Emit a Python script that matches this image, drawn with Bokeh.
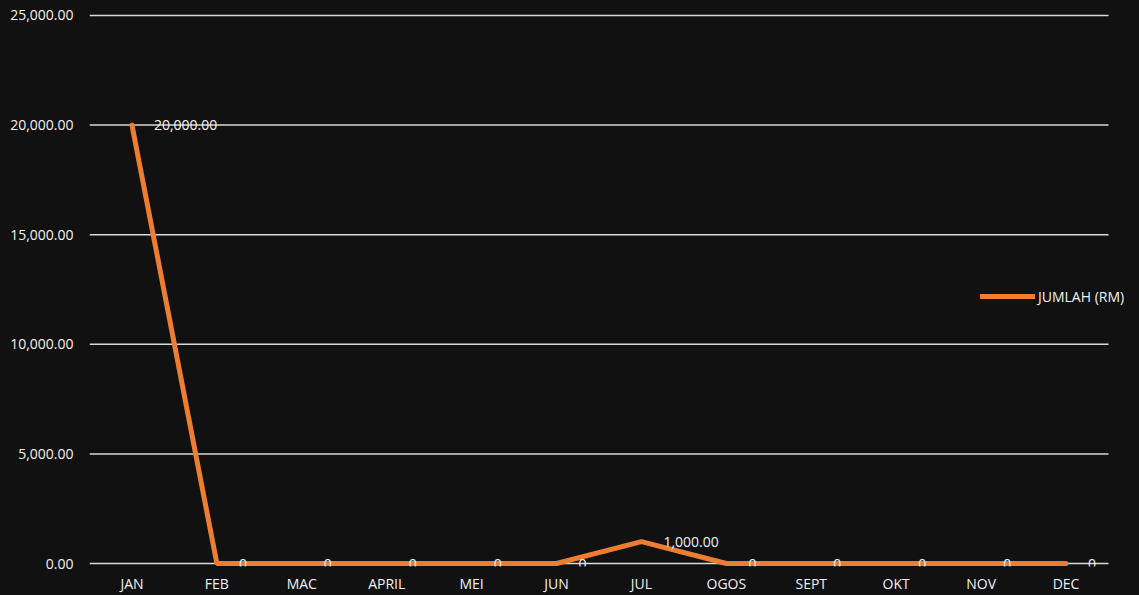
from bokeh.plotting import figure
from bokeh.models import Range1d, NumeralTickFormatter, FixedTicker, ColumnDataSource, CustomJSTickFormatter
from bokeh.core.properties import value
from bokeh.embed import file_html
from bokeh.resources import INLINE

months = ["JAN", "FEB", "MAC", "APRIL", "MEI", "JUN", "JUL", "OGOS", "SEPT", "OKT", "NOV", "DEC"]
jumlah = [20000, 0, 0, 0, 0, 0, 1000, 0, 0, 0, 0, 0]
labels = ["20,000.00", "0", "0", "0", "0", "0", "1,000.00", "0", "0", "0", "0", "0"]
y_ticks = [0, 5000, 10000, 15000, 20000, 25000]
series_name = "JUMLAH (RM)"

FONT = "Open Sans"
TXT = "#f2f2f2"
BG = "#111111"
FS = "14px"

W, H = 1139, 595
LEFT, GRID_RIGHT = 89, 1108
n = len(months)
xpos = [i + 0.5 for i in range(n)]
x_end = n * (W - LEFT) / (GRID_RIGHT - LEFT)

src = ColumnDataSource(dict(x=xpos, y=jumlah, t=labels))
grid_src = ColumnDataSource(dict(x0=[0] * len(y_ticks), x1=[n] * len(y_ticks), y=y_ticks))

p = figure(x_range=Range1d(0, x_end), y_range=Range1d(-136, 25091), width=W, height=H,
           output_backend="svg", toolbar_location=None, tools="",
           background_fill_color=BG, border_fill_color=BG,
           min_border_left=LEFT, min_border_right=0, min_border_top=13, min_border_bottom=27)
p.styles = {"background-color": BG}
p.outline_line_color = None
p.grid.visible = False

p.segment(x0="x0", x1="x1", y0="y", y1="y", source=grid_src, line_color="#d9d9d9", line_width=1.5)
p.line("x", "y", source=src, line_color="#ED7D31", line_width=5, line_cap="round",
       legend_label=series_name)
p.text("x", "y", text="t", source=src, x_offset=22, text_align="left", text_baseline="middle",
       text_font=value(FONT), text_font_size=FS, text_color=TXT)

p.yaxis.ticker = FixedTicker(ticks=y_ticks)
p.yaxis.formatter = NumeralTickFormatter(format="0,0.00")
p.xaxis.ticker = FixedTicker(ticks=xpos)
p.xaxis.formatter = CustomJSTickFormatter(args=dict(months=months),
                                          code="return months[Math.round(tick - 0.5)] || '';")

for ax in (p.xaxis[0], p.yaxis[0]):
    ax.axis_line_color = None
    ax.major_tick_line_color = None
    ax.minor_tick_line_color = None
    ax.major_tick_out = 0
    ax.major_tick_in = 0
    ax.minor_tick_out = 0
    ax.minor_tick_in = 0
    ax.major_label_text_font = FONT
    ax.major_label_text_font_size = FS
    ax.major_label_text_color = TXT
p.yaxis.major_label_standoff = 16
p.xaxis.major_label_standoff = 7

lg = p.legend[0]
lg.location = (891, 260)
lg.background_fill_alpha = 0
lg.border_line_alpha = 0
lg.padding = 0
lg.margin = 0
lg.glyph_width = 55
lg.glyph_height = 20
lg.label_height = 20
lg.label_standoff = 3
lg.label_text_font = FONT
lg.label_text_font_size = FS
lg.label_text_color = TXT

open("out.html", "w").write(file_html(p, INLINE))
